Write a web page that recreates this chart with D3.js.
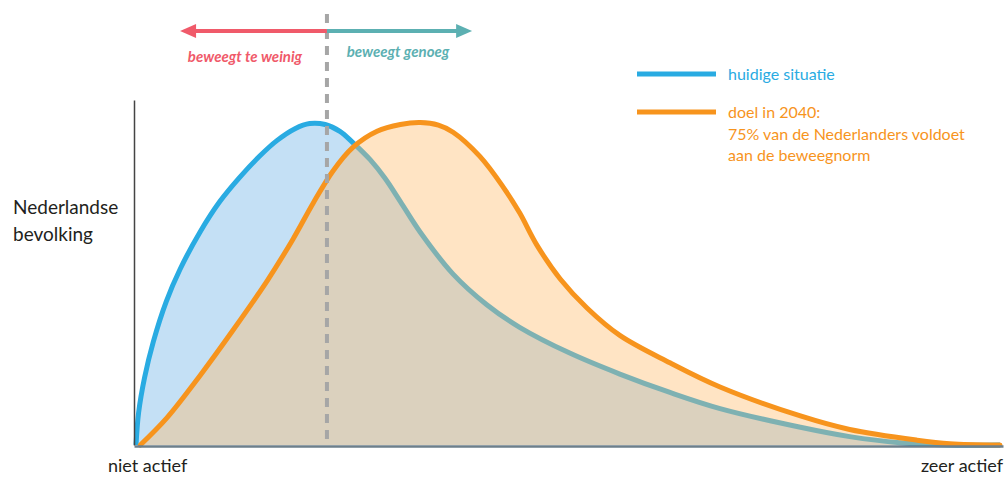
<!DOCTYPE html>
<html>
<head>
<meta charset="utf-8">
<script src="https://cdn.jsdelivr.net/npm/d3@7"></script>
<style>
  body { margin: 0; background: #fff; }
  text { font-family: Lato, "Open Sans", sans-serif; }
</style>
</head>
<body>
<div id="chart"></div>
<script>
// activity level (0 = niet actief, 100 = zeer actief), share of population (peak = 100)
var huidigX = [0, 0.3, 1, 2, 3.5, 5.1, 7.4, 9.7, 12, 14.35, 16.3, 18.4, 20.1, 21.9, 23.6, 25.1, 27.1, 28.8, 30.6, 32.9, 36.7, 40.6, 44.4, 50.2, 56, 61.8, 67.6, 76.9, 82.6, 88.4, 94, 100];
var huidigY = [0, 10, 21, 32, 44.5, 54.5, 66, 75.5, 83, 89.7, 94.4, 98.1, 99.7, 99.4, 97.3, 93.8, 88.5, 82.8, 75.5, 66, 53, 43.5, 36.5, 28.5, 22, 16.3, 11.3, 5.5, 2.6, 0.7, 0, 0];

var doelX = [0.5, 3.6, 7.4, 11.2, 15.2, 18.2, 20.5, 22.8, 25.1, 27.9, 30.6, 32.9, 35, 36.7, 39.8, 42.5, 44.4, 46.4, 49.1, 52.2, 56, 61.8, 67.6, 76.9, 82.6, 90.4, 94.2, 100];
var doelY = [0, 8.5, 21.5, 35.5, 51, 64, 75, 85, 92.3, 97.3, 99.4, 100, 99.2, 97, 89.5, 80, 72, 62, 51.5, 42.5, 34, 25.5, 18, 9, 4.8, 1.5, 0.4, 0];

var beweegnorm = 22.1;          // position of the dashed line
var arrowLeft = 5.1, arrowRight = 38.9;

var arrowLabels = ['beweegt te weinig', 'beweegt genoeg'];
var legendLabels = [['huidige situatie'], ['doel in 2040:', '75% van de Nederlanders voldoet', 'aan de beweegnorm']];
var yLabel = ['Nederlandse', 'bevolking'];
var xLabels = ['niet actief', 'zeer actief'];

var blue = '#29abe2', orange = '#f7941d', red = '#f05a6a', teal = '#5cb0b2';

window.onload = function(){
	var svg = d3.select('#chart').append('svg').attr('width', 1008).attr('height', 477);

	var x = d3.scaleLinear().domain([0, 100]).range([136, 1000]);
	var y = d3.scaleLinear().domain([0, 107]).range([445, 100]);

	var huidig = huidigX.map(function(d, i){ return [d, huidigY[i]]; });
	var doel = doelX.map(function(d, i){ return [d, doelY[i]]; });

	var curve = d3.curveCatmullRom.alpha(0.5);
	var area = d3.area().x(function(d){ return x(d[0]); }).y0(y(0)).y1(function(d){ return y(d[1]); }).curve(curve);
	var line = d3.line().x(function(d){ return x(d[0]); }).y(function(d){ return y(d[1]); }).curve(curve);

	svg.append('path').attr('d', area(huidig)).attr('fill', '#c4e0f5');
	svg.append('path').attr('d', line(huidig)).attr('fill', 'none').attr('stroke', blue).attr('stroke-width', 5);
	svg.append('path').attr('d', area(doel)).attr('fill', 'rgb(255,187,107)').attr('fill-opacity', 0.4);
	svg.append('path').attr('d', line(doel)).attr('fill', 'none').attr('stroke', orange).attr('stroke-width', 5).attr('stroke-linecap', 'round');

	// axes without ticks
	var xAxisScale = x.copy().domain([-0.25, 100.35]).range([134, 1003]);
	svg.append('g').attr('transform', 'translate(0,' + (y(0) + 1) + ')')
		.call(d3.axisBottom(xAxisScale).ticks(0).tickSizeOuter(0))
		.select('.domain').attr('stroke', '#6d7f8b').attr('stroke-width', 2.5);
	svg.append('g').attr('transform', 'translate(134,0)')
		.call(d3.axisLeft(y).ticks(0).tickSizeOuter(0))
		.select('.domain').attr('stroke', '#444').attr('stroke-width', 1.5);

	// dashed threshold
	svg.append('line').attr('x1', x(beweegnorm)).attr('x2', x(beweegnorm)).attr('y1', 14).attr('y2', y(0))
		.attr('stroke', '#a6a6a6').attr('stroke-width', 4).attr('stroke-dasharray', '9,7');

	// arrows
	var ay = 31;
	svg.append('line').attr('x1', x(beweegnorm)).attr('x2', x(arrowLeft) + 10).attr('y1', ay).attr('y2', ay)
		.attr('stroke', red).attr('stroke-width', 4);
	svg.append('path').attr('d', d3.line()([[x(arrowLeft), ay], [x(arrowLeft) + 16, ay - 7], [x(arrowLeft) + 16, ay + 7]]) + 'Z').attr('fill', red);
	svg.append('line').attr('x1', x(beweegnorm)).attr('x2', x(arrowRight) - 10).attr('y1', ay).attr('y2', ay)
		.attr('stroke', teal).attr('stroke-width', 4);
	svg.append('path').attr('d', d3.line()([[x(arrowRight), ay], [x(arrowRight) - 16, ay - 7], [x(arrowRight) - 16, ay + 7]]) + 'Z').attr('fill', teal);

	svg.append('text').attr('x', 245).attr('y', 62).attr('text-anchor', 'middle')
		.attr('font-size', 15).attr('font-weight', 'bold').attr('font-style', 'italic').attr('fill', red).text(arrowLabels[0]);
	svg.append('text').attr('x', 398).attr('y', 57).attr('text-anchor', 'middle')
		.attr('font-size', 15).attr('font-weight', 'bold').attr('font-style', 'italic').attr('fill', teal).text(arrowLabels[1]);

	// legend
	var legendColors = [blue, orange];
	var legendY = [74, 112];
	legendLabels.forEach(function(lines, i){
		svg.append('line').attr('x1', 637).attr('x2', 716).attr('y1', legendY[i]).attr('y2', legendY[i])
			.attr('stroke', legendColors[i]).attr('stroke-width', 5);
		var t = svg.append('text').attr('x', 728).attr('y', legendY[i] + 6).attr('font-size', 16).attr('fill', legendColors[i]);
		t.selectAll('tspan').data(lines).enter().append('tspan')
			.attr('x', 728).attr('dy', function(d, j){ return j === 0 ? 0 : 21.5; }).text(function(d){ return d; });
	});

	// axis labels
	var yl = svg.append('text').attr('x', 13).attr('y', 214).attr('font-size', 19).attr('fill', '#231f20');
	yl.selectAll('tspan').data(yLabel).enter().append('tspan')
		.attr('x', 13).attr('dy', function(d, j){ return j === 0 ? 0 : 27; }).text(function(d){ return d; });

	svg.append('text').attr('x', 108).attr('y', 472).attr('font-size', 18).attr('fill', '#231f20').text(xLabels[0]);
	svg.append('text').attr('x', 1003).attr('y', 472).attr('text-anchor', 'end').attr('font-size', 18).attr('fill', '#231f20').text(xLabels[1]);
}
</script>
</body>
</html>
